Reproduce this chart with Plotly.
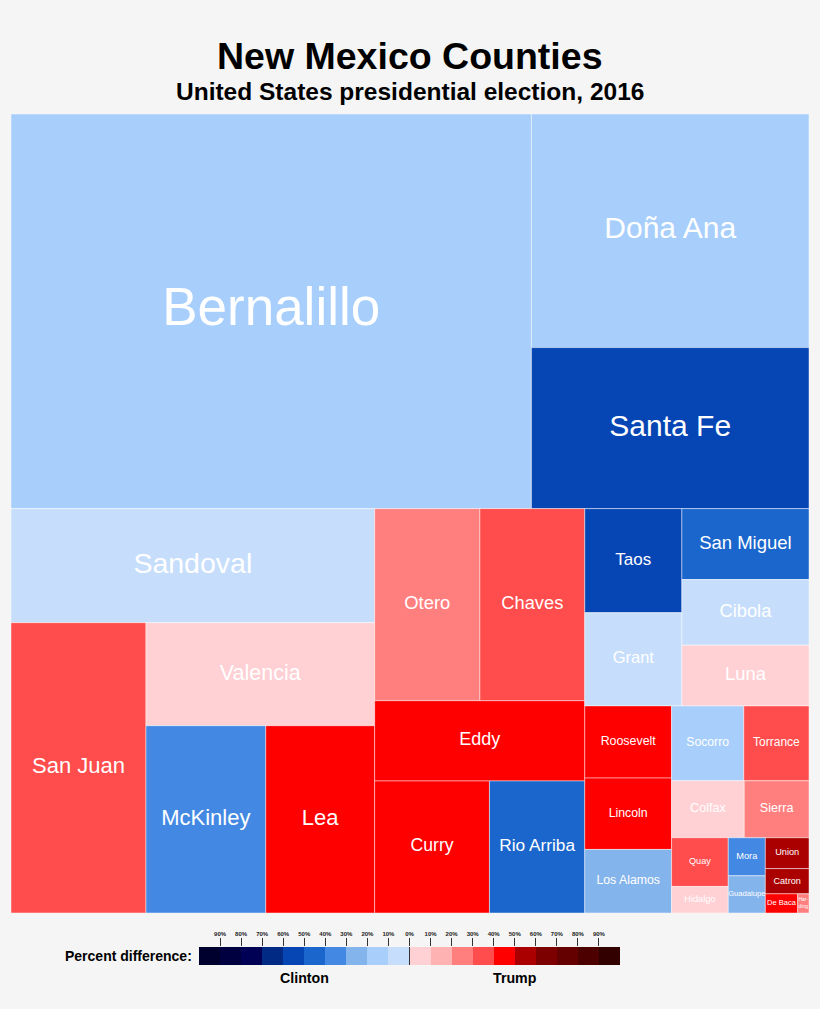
import plotly.graph_objects as go

# ---------------- data ----------------
counties = ["Bernalillo", "Doña Ana", "Santa Fe", "Sandoval", "San Juan", "Valencia",
            "McKinley", "Lea", "Otero", "Chaves", "Eddy", "Curry", "Rio Arriba",
            "Taos", "Grant", "San Miguel", "Cibola", "Luna", "Roosevelt", "Lincoln",
            "Los Alamos", "Socorro", "Torrance", "Colfax", "Sierra", "Quay", "Hidalgo",
            "Mora", "Guadalupe", "Union", "Catron", "De Baca", "Harding"]
# cell size (population, thousands)
population_k = [662.6, 209.2, 144.2, 133.8, 126.4, 76.0,
                72.4, 65.8, 65.2, 65.0, 54.4, 48.9, 40.6,
                32.6, 29.2, 29.1, 26.9, 24.9, 20.2, 20.0,
                17.8, 17.45, 15.75, 13.35, 11.9, 8.9, 4.85,
                4.55, 4.45, 4.35, 3.55, 2.0, 0.7]
# percent difference (negative = Clinton ahead, positive = Trump ahead)
margin_pct = [-17, -16, -53, -4, 32, 8,
              -35, 45, 25, 38, 46, 43, -42,
              -55, -3, -45, -5, 7, 47, 42,
              -25, -14, 35, 6, 24, 36, 4,
              -38, -27, 55, 52, 48, 27]
legend_ticks = ["90%", "80%", "70%", "60%", "50%", "40%", "30%", "20%", "10%", "0%",
                "10%", "20%", "30%", "40%", "50%", "60%", "70%", "80%", "90%"]

# ---------------- styles ----------------
PALETTE = ['#00002e', '#000040', '#000055', '#002a84', '#0645b4', '#1a66cc', '#4389e3',
           '#84b4ec', '#a8cffc', '#c6defc', '#ffd0d4', '#ffb2b2', '#ff7f7f', '#ff4c4c',
           '#ff0000', '#aa0000', '#7c0000', '#640000', '#4c0000', '#330000']
LABEL_SIZE = {"Bernalillo": 53, "Doña Ana": 30, "Santa Fe": 30, "Sandoval": 28.5,
              "San Juan": 22, "Valencia": 21.5, "McKinley": 22, "Lea": 22, "Otero": 18.4,
              "Chaves": 18.3, "Eddy": 18, "Curry": 17.6, "Rio Arriba": 17.3, "Taos": 17,
              "Grant": 16.5, "San Miguel": 18.5, "Cibola": 18.3, "Luna": 18.4,
              "Roosevelt": 12.4, "Lincoln": 12.3, "Los Alamos": 12.3, "Socorro": 12.2,
              "Torrance": 12, "Colfax": 12.6, "Sierra": 12.6, "Quay": 9.2, "Hidalgo": 9.2,
              "Mora": 9.2, "Guadalupe": 7.6, "Union": 9.2, "Catron": 9.1, "De Baca": 7.5,
              "Harding": 5}
LABEL_TEXT = {"Harding": "Har-<br>ding"}
CELL_FONT = "Liberation Sans, Arial, sans-serif"
HEAD_FONT = "Liberation Sans Narrow, Arial Narrow, Liberation Sans, Arial, sans-serif"
BG = "#f5f5f5"
BOX_H = 1.06  # height of the original layout box relative to its width


def bin_color(m):
    if m < 0:
        return PALETTE[9 - min(int(-m // 10), 9)]
    return PALETTE[10 + min(int(m // 10), 9)]


def split_layout(vals, idx, x0, y0, x1, y1, out):
    """Ordered split treemap: first group = longest prefix not exceeding half."""
    if len(idx) == 1:
        out[idx[0]] = (x0, y0, x1, y1)
        return
    total = sum(vals[i] for i in idx)
    acc = vals[idx[0]]
    k = 1
    while k < len(idx) - 1 and acc + vals[idx[k]] <= total / 2:
        acc += vals[idx[k]]
        k += 1
    frac = acc / total
    if (x1 - x0) > (y1 - y0):
        xm = x0 + (x1 - x0) * frac
        split_layout(vals, idx[:k], x0, y0, xm, y1, out)
        split_layout(vals, idx[k:], xm, y0, x1, y1, out)
    else:
        ym = y0 + (y1 - y0) * frac
        split_layout(vals, idx[:k], x0, y0, x1, ym, out)
        split_layout(vals, idx[k:], x0, ym, x1, y1, out)


rects = {}
split_layout(population_k, list(range(len(counties))), 0.0, 0.0, 1.0, BOX_H, rects)

fig = go.Figure()
for i, name in enumerate(counties):
    x0, y0, x1, y1 = rects[i]
    fig.add_trace(go.Scatter(
        x=[x0, x1, x1, x0, x0], y=[y0, y0, y1, y1, y0],
        mode="lines", fill="toself", fillcolor=bin_color(margin_pct[i]),
        line=dict(color="rgba(255,255,255,0.45)", width=1),
        hoveron="fills", name=name,
        text=f"{name}: {population_k[i]}k, {abs(margin_pct[i])}% "
             f"{'Clinton' if margin_pct[i] < 0 else 'Trump'}",
        hoverinfo="text", showlegend=False, xaxis="x", yaxis="y"))

cx = [(rects[i][0] + rects[i][2]) / 2 for i in range(len(counties))]
cy = [(rects[i][1] + rects[i][3]) / 2 for i in range(len(counties))]
fig.add_trace(go.Scatter(
    x=cx, y=cy, mode="text",
    text=[LABEL_TEXT.get(c, c) for c in counties],
    textposition="middle center",
    textfont=dict(family=CELL_FONT, color="white",
                  size=[LABEL_SIZE[c] for c in counties]),
    hoverinfo="skip", showlegend=False, xaxis="x", yaxis="y"))

# colour key
fig.add_trace(go.Bar(
    x=list(range(len(PALETTE))), y=[1] * len(PALETTE), width=1,
    marker=dict(color=PALETTE, line=dict(width=0)),
    hoverinfo="skip", showlegend=False, xaxis="x2", yaxis="y2"))

W, H = 820, 1009
fig.update_layout(
    width=W, height=H, margin=dict(l=0, r=0, t=0, b=0),
    paper_bgcolor=BG, plot_bgcolor=BG, bargap=0,
    xaxis=dict(domain=[11 / W, 809 / W], range=[0, 1], visible=False, fixedrange=True),
    yaxis=dict(domain=[1 - 913 / H, 1 - 114 / H], range=[BOX_H, 0], visible=False,
               fixedrange=True),
    xaxis2=dict(domain=[199 / W, 620 / W], range=[-0.5, len(PALETTE) - 0.5],
                anchor="y2", side="top", showgrid=False, zeroline=False,
                showline=False, ticks="outside", ticklen=8, tickwidth=1,
                tickcolor="#333333",
                tickvals=[i + 0.5 for i in range(len(legend_ticks))],
                ticktext=legend_ticks,
                tickfont=dict(family=HEAD_FONT, size=6, color="#222222", weight="bold"),
                fixedrange=True),
    yaxis2=dict(domain=[1 - 965 / H, 1 - 947 / H], range=[0, 1], anchor="x2",
                visible=False, fixedrange=True),
    shapes=[dict(type="line", xref="x2", yref="y2", x0=9.5, x1=9.5, y0=0, y1=1,
                 line=dict(color="#333333", width=1))],
    annotations=[
        dict(text="New Mexico Counties", xref="paper", yref="paper", x=0.5, y=1 - 56 / H,
             showarrow=False, xanchor="center", yanchor="middle",
             font=dict(family=HEAD_FONT, size=37.5, color="black", weight="bold")),
        dict(text="United States presidential election, 2016", xref="paper", yref="paper",
             x=0.5, y=1 - 91 / H, showarrow=False, xanchor="center", yanchor="middle",
             font=dict(family=HEAD_FONT, size=24.5, color="black", weight="bold")),
        dict(text="Percent difference:", xref="paper", yref="paper", x=194 / W,
             y=1 - 956 / H, showarrow=False, xanchor="right", yanchor="middle",
             font=dict(family=HEAD_FONT, size=14, color="black", weight="bold")),
        dict(text="Clinton", xref="x2", yref="paper", x=4.5, y=1 - 978 / H,
             showarrow=False, xanchor="center", yanchor="middle",
             font=dict(family=HEAD_FONT, size=14.2, color="black", weight="bold")),
        dict(text="Trump", xref="x2", yref="paper", x=14.5, y=1 - 978 / H,
             showarrow=False, xanchor="center", yanchor="middle",
             font=dict(family=HEAD_FONT, size=14.2, color="black", weight="bold")),
    ],
)

fig.write_html("out.html",
               config={"displayModeBar": False},
               post_script="document.body.style.margin='0';"
                           "document.body.style.background='#f5f5f5';")
